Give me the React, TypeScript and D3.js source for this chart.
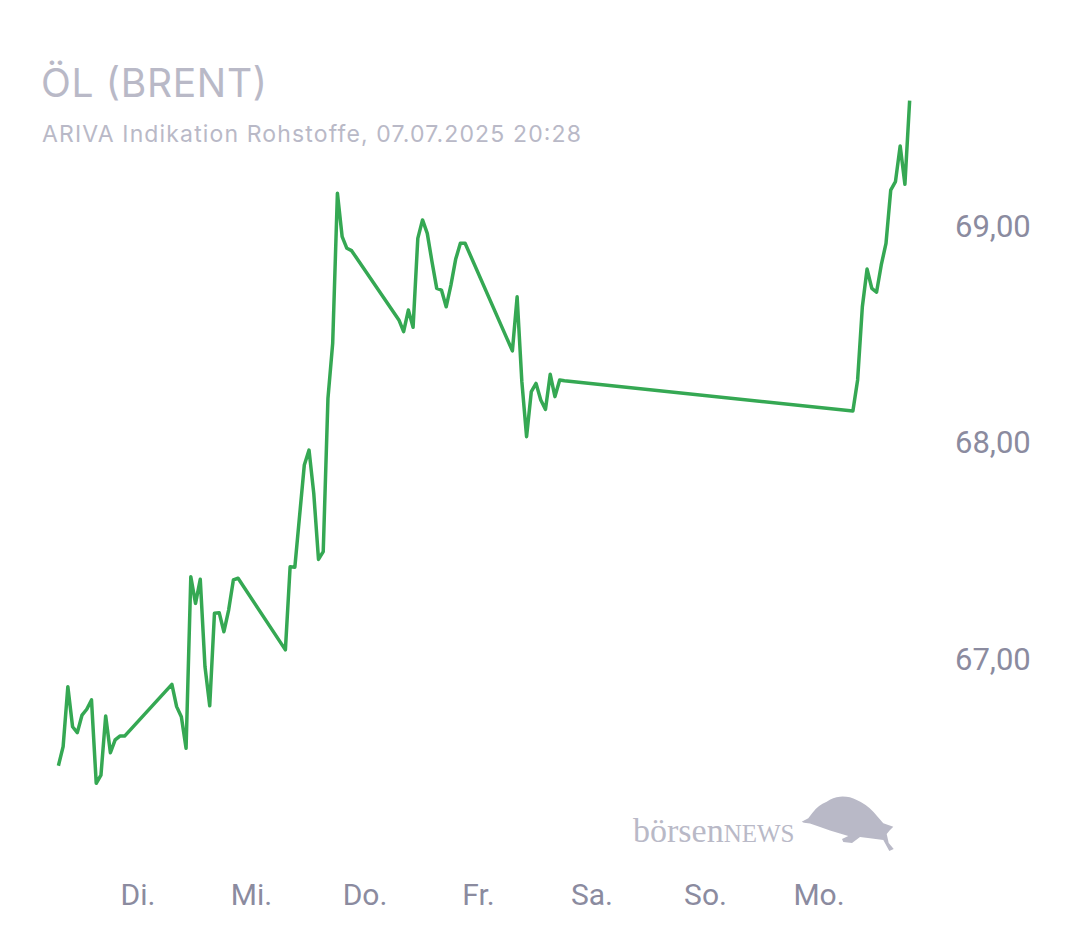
import React from "react";
import * as d3 from "d3";

// Hourly indication quotes (UTC), first quote of each session at 07:10
const sessionDates = ["2025-06-30", "2025-07-01", "2025-07-02", "2025-07-03", "2025-07-04", "2025-07-07"];
const sessionStartHour = 7;
const mon30 = [66.507, 66.595, 66.872, 66.687, 66.66, 66.741, 66.768, 66.811, 66.426, 66.464, 66.737, 66.567, 66.626, 66.644, 66.644];
const tue01 = [66.883, 66.78, 66.733, 66.588, 67.38, 67.257, 67.368, 66.964, 66.784, 67.211, 67.214, 67.126, 67.226, 67.365, 67.373];
const wed02 = [67.042, 67.426, 67.424, 67.661, 67.896, 67.965, 67.765, 67.46, 67.496, 68.204, 68.458, 69.151, 68.951, 68.897, 68.886];
const thu03 = [68.566, 68.512, 68.612, 68.532, 68.943, 69.028, 68.966, 68.835, 68.712, 68.704, 68.627, 68.727, 68.846, 68.92, 68.92];
const fri04 = [68.423, 68.673, 68.281, 68.027, 68.235, 68.273, 68.196, 68.153, 68.315, 68.212, 68.289, 68.285];
const mon07 = [68.145, 68.289, 68.627, 68.801, 68.712, 68.694, 68.82, 68.92, 69.166, 69.205, 69.37, 69.193, 69.579];
const sessions = [mon30, tue01, wed02, thu03, fri04, mon07];

const yTicks = [67, 68, 69];
const dayLabels = ["Di.", "Mi.", "Do.", "Fr.", "Sa.", "So.", "Mo."];
const dayTickDates = ["2025-07-01", "2025-07-02", "2025-07-03", "2025-07-04", "2025-07-05", "2025-07-06", "2025-07-07"];

const title = "ÖL (BRENT)";
const subtitle = "ARIVA Indikation Rohstoffe, 07.07.2025 20:28";

const WIDTH = 1080;
const HEIGHT = 945;

type Pt = { t: Date; v: number };

const points: Pt[] = [];
sessions.forEach((vals, si) => {
  vals.forEach((v, i) => {
    const t = new Date(`${sessionDates[si]}T00:00:00Z`);
    t.setUTCHours(sessionStartHour + i, 10);
    points.push({ t, v });
  });
});

const de = d3.formatLocale({ decimal: ",", thousands: ".", grouping: [3], currency: ["", " €"] });
const fmt = de.format(".2f");

const bullPath =
  "M801.7,821.7 L808.3,818.3 L812.3,813 Q818,805 826.7,801.7 Q833,797 840,796.7 Q849,796 856.7,800 Q866,804 873.3,811.7 L883.3,823.3 L893.3,826.7 L890,830 L886.7,834 L888.7,843 L893.7,849 L889.3,851 L883.3,840 L870,838.3 L860,837 L852,843 L843.3,842 L842,839 L848.3,836 L840,833.5 L830,830.5 L818.7,826.5 L810,823.5 L804,822.7 Z";

export default function App() {
  const x = d3
    .scaleUtc()
    .domain([new Date("2025-06-30T00:00:00Z"), new Date("2025-07-08T00:00:00Z")])
    .range([24.5, 932.5]);
  const y = d3.scaleLinear().domain([67, 69]).range([659, 226]);
  const line = d3
    .line<Pt>()
    .x((d) => x(d.t))
    .y((d) => y(d.v))
    .curve(d3.curveLinear);

  const textColor = "#8b8b9f";
  const lightColor = "#b9b9c7";

  return (
    <svg
      width={WIDTH}
      height={HEIGHT}
      style={{ position: "absolute", left: 0, top: 0, background: "#fff" }}
      xmlns="http://www.w3.org/2000/svg"
    >
      <rect width={WIDTH} height={HEIGHT} fill="#fff" />
      <text
        x={41}
        y={97}
        fontFamily="Inter, sans-serif"
        fontSize={39}
        fill={lightColor}
        textLength={226}
        lengthAdjust="spacing"
      >
        {title}
      </text>
      <text
        x={42}
        y={141.5}
        fontFamily="Inter, sans-serif"
        fontSize={23}
        fill={lightColor}
        textLength={539}
        lengthAdjust="spacing"
      >
        {subtitle}
      </text>

      {/* watermark */}
      <g fill={lightColor}>
        <text x={633} y={841.5} fontFamily="'Liberation Serif', serif">
          <tspan fontSize={34}>börsen</tspan>
          <tspan fontSize={25}>NEWS</tspan>
        </text>
        <path d={bullPath} />
      </g>

      {yTicks.map((t) => (
        <text
          key={t}
          x={955}
          y={y(t)}
          dominantBaseline="central"
          fontFamily="Roboto, sans-serif"
          fontSize={31}
          fill={textColor}
        >
          {fmt(t)}
        </text>
      ))}

      {dayTickDates.map((d, i) => (
        <text
          key={d}
          x={x(new Date(`${d}T00:00:00Z`))}
          y={905}
          textAnchor="middle"
          fontFamily="Roboto, sans-serif"
          fontSize={30}
          fill={textColor}
        >
          {dayLabels[i]}
        </text>
      ))}

      <path
        d={line(points) || ""}
        fill="none"
        stroke="#35a853"
        strokeWidth={3.5}
        strokeLinejoin="round"
        strokeLinecap="butt"
      />
    </svg>
  );
}
